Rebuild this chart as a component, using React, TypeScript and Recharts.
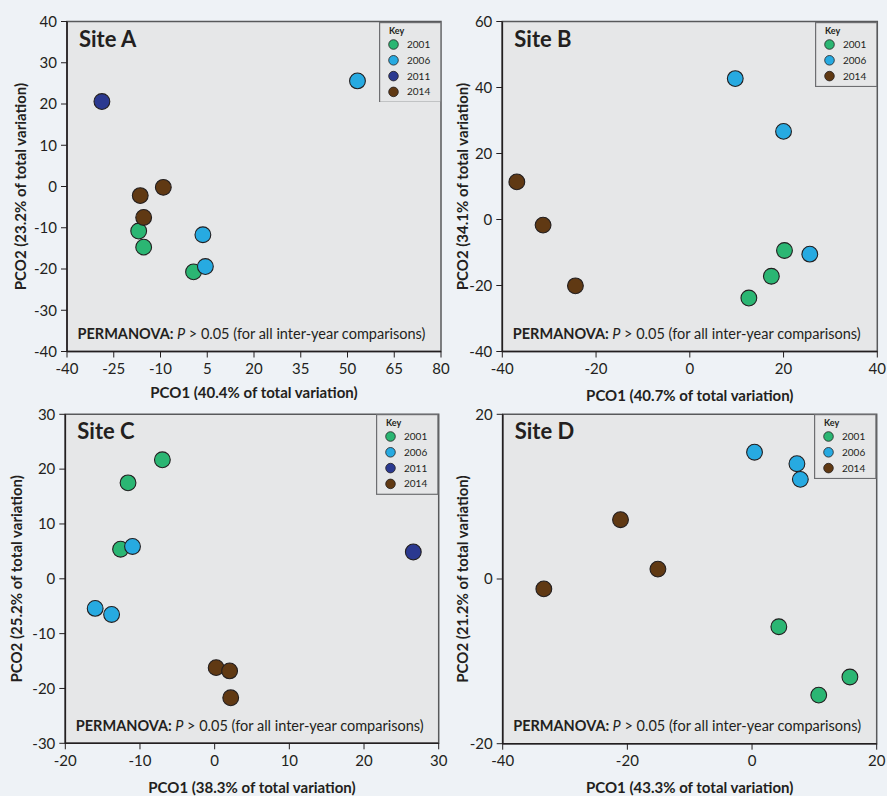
import React from 'react';
import {
  ScatterChart,
  Scatter,
  XAxis,
  YAxis,
  ReferenceArea,
  Legend
} from 'recharts';

type Pt = { x: number; y: number };

// colours per sampling year
const YEAR_COLORS: Record<string, string> = {
  '2001': '#2bb673',
  '2006': '#27aae1',
  '2011': '#2b3990',
  '2014': '#603913'
};

// Site A
const siteA2001: Pt[] = [{ x: -17.0, y: -10.8 }, { x: -15.4, y: -14.7 }, { x: 0.6, y: -20.7 }];
const siteA2006: Pt[] = [{ x: 53.2, y: 25.6 }, { x: 3.6, y: -11.7 }, { x: 4.4, y: -19.4 }];
const siteA2011: Pt[] = [{ x: -28.8, y: 20.6 }];
const siteA2014: Pt[] = [{ x: -16.5, y: -2.2 }, { x: -9.1, y: -0.2 }, { x: -15.4, y: -7.5 }];
const siteAXTicks = [-40, -25, -10, 5, 20, 35, 50, 65, 80];
const siteAYTicks = [-40, -30, -20, -10, 0, 10, 20, 30, 40];

// Site B
const siteB2001: Pt[] = [{ x: 20.2, y: -9.4 }, { x: 17.4, y: -17.2 }, { x: 12.6, y: -23.8 }];
const siteB2006: Pt[] = [{ x: 9.7, y: 42.7 }, { x: 20.0, y: 26.7 }, { x: 25.6, y: -10.5 }];
const siteB2014: Pt[] = [{ x: -36.9, y: 11.4 }, { x: -31.3, y: -1.7 }, { x: -24.4, y: -20.1 }];
const siteBXTicks = [-40, -20, 0, 20, 40];
const siteBYTicks = [-40, -20, 0, 20, 40, 60];

// Site C
const siteC2001: Pt[] = [{ x: -7.0, y: 21.7 }, { x: -11.6, y: 17.5 }, { x: -12.6, y: 5.4 }];
const siteC2006: Pt[] = [{ x: -11.0, y: 5.9 }, { x: -16.0, y: -5.4 }, { x: -13.8, y: -6.5 }];
const siteC2011: Pt[] = [{ x: 26.6, y: 4.9 }];
const siteC2014: Pt[] = [{ x: 0.2, y: -16.2 }, { x: 2.0, y: -16.8 }, { x: 2.15, y: -21.7 }];
const siteCXTicks = [-20, -10, 0, 10, 20, 30];
const siteCYTicks = [-30, -20, -10, 0, 10, 20, 30];

// Site D
const siteD2001: Pt[] = [{ x: 4.3, y: -5.8 }, { x: 15.7, y: -11.9 }, { x: 10.7, y: -14.1 }];
const siteD2006: Pt[] = [{ x: 0.4, y: 15.4 }, { x: 7.2, y: 14.0 }, { x: 7.75, y: 12.1 }];
const siteD2014: Pt[] = [{ x: -21.1, y: 7.2 }, { x: -15.1, y: 1.2 }, { x: -33.4, y: -1.2 }];
const siteDXTicks = [-40, -20, 0, 20];
const siteDYTicks = [-20, 0, 20];

const FONT = 'Lato, sans-serif';
const INK = '#231f20';
const PLOT_BG = '#e6e7e8';
const PAGE_BG = '#eef2f6';

interface SeriesDef {
  year: string;
  data: Pt[];
}

interface Margin {
  top: number;
  right: number;
  bottom: number;
  left: number;
}

interface PanelProps {
  site: string;
  xTitle: string;
  yTitle: string;
  xDomain: [number, number];
  yDomain: [number, number];
  xTicks: number[];
  yTicks: number[];
  series: SeriesDef[];
  left: number;
  top: number;
  width: number;
  height: number;
  margin: Margin;
  yAxisWidth: number;
  xAxisHeight: number;
  yTitleX: number;
  xTitleOffset: number;
}

const KEY_W = 62.5;

const KeyBox = ({ years }: { years: string[] }) => {
  const h = 22.5 + (years.length - 1) * 15.8 + 11;
  return (
    <svg width={KEY_W} height={h} style={{ display: 'block' }}>
      <rect x={0.6} y={0.6} width={KEY_W - 1.2} height={h - 1.2} fill={PLOT_BG} stroke="#6d6e71" strokeWidth={1.2} />
      <text x={10} y={11.5} fontFamily={FONT} fontSize={9} fontWeight={700} fill={INK}>Key</text>
      {years.map((yr, i) => (
        <g key={yr}>
          <circle cx={14.5} cy={22.5 + i * 15.8} r={4.8} fill={YEAR_COLORS[yr]} stroke={INK} strokeWidth={0.8} />
          <text x={28} y={22.5 + i * 15.8 + 3.5} fontFamily={FONT} fontSize={10} fill={INK}>{yr}</text>
        </g>
      ))}
    </svg>
  );
};

const Panel = (p: PanelProps) => {
  const plotLeft = p.margin.left + p.yAxisWidth;
  const plotTop = p.margin.top;
  const plotBottom = p.height - p.margin.bottom - p.xAxisHeight;
  const plotRight = p.width - p.margin.right;

  const notes = (props: any) => {
    const vb = props && props.viewBox ? props.viewBox : null;
    const x = vb ? vb.x : plotLeft;
    const y = vb ? vb.y : plotTop;
    const bottom = vb ? vb.y + vb.height : plotBottom;
    return (
      <g>
        <text x={x + 12} y={y + 25} fontFamily={FONT} fontSize={22} fontWeight={700} fill={INK}>
          {`Site ${p.site}`}
        </text>
        <text x={x + 10.5} y={bottom - 12.5} fontFamily={FONT} fontSize={14.5} fill={INK}>
          <tspan fontWeight={700}>PERMANOVA:</tspan>
          <tspan fontStyle="italic"> P</tspan>
          <tspan>{' > 0.05 (for all inter-year comparisons)'}</tspan>
        </text>
      </g>
    );
  };

  const tickStyle = { fill: INK, fontSize: 15, fontFamily: FONT };

  return (
    <div style={{ position: 'absolute', left: p.left, top: p.top, width: p.width, height: p.height }}>
      <ScatterChart width={p.width} height={p.height} margin={p.margin}>
        <ReferenceArea
          x1={p.xDomain[0]}
          x2={p.xDomain[1]}
          y1={p.yDomain[0]}
          y2={p.yDomain[1]}
          fill={PLOT_BG}
          fillOpacity={1}
          stroke="#58595b"
          strokeWidth={1.5}
          label={notes}
        />
        <XAxis
          type="number"
          dataKey="x"
          domain={p.xDomain}
          ticks={p.xTicks}
          interval={0}
          allowDataOverflow
          height={p.xAxisHeight}
          tick={tickStyle}
          tickSize={6}
          tickMargin={6}
          tickLine={{ stroke: INK, strokeWidth: 1 }}
          axisLine={{ stroke: INK, strokeWidth: 1.6 }}
          label={{
            value: p.xTitle,
            position: 'insideBottom',
            offset: p.xTitleOffset,
            style: { fontFamily: FONT, fontSize: 15, fontWeight: 700, fill: INK }
          }}
        />
        <YAxis
          type="number"
          dataKey="y"
          domain={p.yDomain}
          ticks={p.yTicks}
          interval={0}
          allowDataOverflow
          width={p.yAxisWidth}
          tick={tickStyle}
          tickSize={6}
          tickMargin={4}
          tickLine={{ stroke: INK, strokeWidth: 1 }}
          axisLine={{ stroke: INK, strokeWidth: 1.6 }}
          label={{
            value: p.yTitle,
            angle: -90,
            position: 'insideLeft',
            offset: p.yTitleX - p.margin.left,
            style: { textAnchor: 'middle', fontFamily: FONT, fontSize: 15, fontWeight: 700, fill: INK }
          }}
        />
        <Legend
          layout="vertical"
          align="center"
          verticalAlign="middle"
          wrapperStyle={{ top: plotTop, left: plotRight - KEY_W, width: KEY_W, margin: 0, padding: 0 }}
          content={() => <KeyBox years={p.series.map(s => s.year)} />}
        />
        {p.series.map(s => (
          <Scatter
            key={s.year}
            name={s.year}
            data={s.data}
            fill={YEAR_COLORS[s.year]}
            isAnimationActive={false}
            shape={(props: any) => (
              <circle cx={props.cx} cy={props.cy} r={7.9} fill={YEAR_COLORS[s.year]} stroke={INK} strokeWidth={1.1} />
            )}
          />
        ))}
      </ScatterChart>
    </div>
  );
};

export default function App() {
  return (
    <div
      style={{
        position: 'absolute',
        left: 0,
        top: 0,
        width: 887,
        height: 796,
        overflow: 'hidden',
        background: PAGE_BG,
        fontFamily: FONT
      }}
    >
      <Panel
        site="A"
        xTitle="PCO1 (40.4% of total variation)"
        yTitle="PCO2 (23.2% of total variation)"
        xDomain={[-40, 80]}
        yDomain={[-40, 40]}
        xTicks={siteAXTicks}
        yTicks={siteAYTicks}
        series={[
          { year: '2001', data: siteA2001 },
          { year: '2006', data: siteA2006 },
          { year: '2011', data: siteA2011 },
          { year: '2014', data: siteA2014 }
        ]}
        left={0}
        top={0}
        width={455}
        height={400}
        margin={{ top: 21.5, right: 14, bottom: 0, left: 0 }}
        yAxisWidth={67}
        xAxisHeight={48.5}
        yTitleX={21}
        xTitleOffset={2.5}
      />
      <Panel
        site="B"
        xTitle="PCO1 (40.7% of total variation)"
        yTitle="PCO2 (34.1% of total variation)"
        xDomain={[-40, 40]}
        yDomain={[-40, 60]}
        xTicks={siteBXTicks}
        yTicks={siteBYTicks}
        series={[
          { year: '2001', data: siteB2001 },
          { year: '2006', data: siteB2006 },
          { year: '2014', data: siteB2014 }
        ]}
        left={444}
        top={0}
        width={443}
        height={406}
        margin={{ top: 21.5, right: 9.7, bottom: 0, left: 0 }}
        yAxisWidth={58.3}
        xAxisHeight={54.5}
        yTitleX={19}
        xTitleOffset={5}
      />
      <Panel
        site="C"
        xTitle="PCO1 (38.3% of total variation)"
        yTitle="PCO2 (25.2% of total variation)"
        xDomain={[-20, 30]}
        yDomain={[-30, 30]}
        xTicks={siteCXTicks}
        yTicks={siteCYTicks}
        series={[
          { year: '2001', data: siteC2001 },
          { year: '2006', data: siteC2006 },
          { year: '2011', data: siteC2011 },
          { year: '2014', data: siteC2014 }
        ]}
        left={0}
        top={400}
        width={455}
        height={396}
        margin={{ top: 14.3, right: 16.3, bottom: 0, left: 0 }}
        yAxisWidth={65.3}
        xAxisHeight={52.7}
        yTitleX={16.3}
        xTitleOffset={3}
      />
      <Panel
        site="D"
        xTitle="PCO1 (43.3% of total variation)"
        yTitle="PCO2 (21.2% of total variation)"
        xDomain={[-40, 20]}
        yDomain={[-20, 20]}
        xTicks={siteDXTicks}
        yTicks={siteDYTicks}
        series={[
          { year: '2001', data: siteD2001 },
          { year: '2006', data: siteD2006 },
          { year: '2014', data: siteD2014 }
        ]}
        left={444}
        top={400}
        width={443}
        height={396}
        margin={{ top: 14.3, right: 10.3, bottom: 0, left: 0 }}
        yAxisWidth={58.7}
        xAxisHeight={52.3}
        yTitleX={19}
        xTitleOffset={3.5}
      />
    </div>
  );
}
